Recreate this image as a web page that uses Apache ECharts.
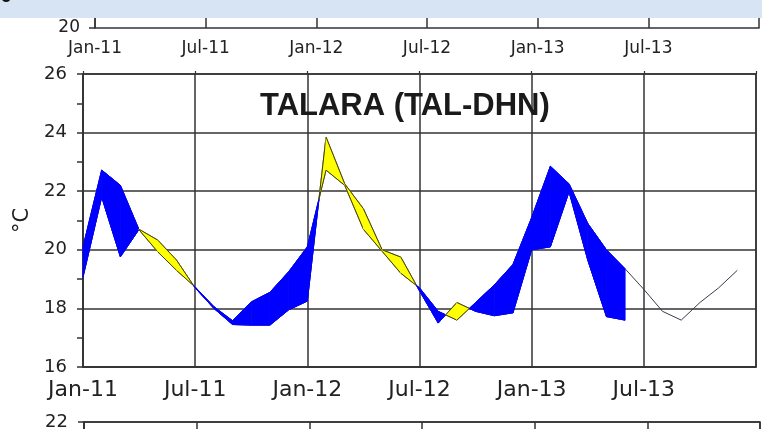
<!DOCTYPE html>
<html>
<head>
<meta charset="utf-8">
<script src="https://cdn.jsdelivr.net/npm/echarts@6/dist/echarts.min.js"></script>
<style>
  html, body { margin: 0; padding: 0; background: #fff; }
  #chart { width: 762px; height: 429px; }
</style>
</head>
<body>
<div id="chart"></div>
<script>
  // months counted from Jan-11 (0) to Jan-14 (36)
  const tickLabels = ['Jan-11', 'Jul-11', 'Jan-12', 'Jul-12', 'Jan-13', 'Jul-13', ''];

  // thin reference line, Jan-11 .. Dec-13
  const normal = [
    20.1, 22.72, 22.2, 20.68, 19.93, 19.3, 18.73, 18.06, 17.58, 18.22, 18.55, 19.25,
    20.1, 22.72, 22.2, 20.7, 19.95, 19.2, 18.7, 17.9, 17.6, 18.2, 18.8, 19.5,
    21.1, 22.85, 22.25, 20.9, 20.0, 19.35, 18.65, 17.9, 17.6, 18.2, 18.7, 19.3
  ];

  // observed, Jan-11 .. Jun-13
  const observed = [
    19.07, 21.8, 19.76, 20.7, 20.33, 19.65, 18.7, 18.0, 17.45, 17.43, 17.43, 17.95,
    18.25, 23.85, 22.25, 21.4, 20.0, 19.75, 18.6, 17.5, 18.2, 17.9, 17.75, 17.85,
    20.0, 20.1, 21.98, 19.65, 17.72, 17.6
  ];

  const chart = echarts.init(document.getElementById('chart'));

  const segments = [];
  for (let i = 0; i < observed.length - 1; i++) {
    segments.push([i, observed[i], observed[i + 1], normal[i], normal[i + 1]]);
  }

  const WARM = '#ffff00', COLD = '#0000ff';

  function renderBand(params, api) {
    const i = api.value(0);
    const o0 = api.value(1), o1 = api.value(2), c0 = api.value(3), c1 = api.value(4);
    const d0 = o0 - c0, d1 = o1 - c1;
    const children = [];
    function piece(a, b, warm) {
      // a, b: [x, normal, observed] at both ends
      const col = warm ? WARM : COLD;
      const edge = warm ? '#3d3d1a' : COLD;
      children.push({
        type: 'polygon',
        shape: { points: [api.coord([a[0], a[1]]), api.coord([b[0], b[1]]), api.coord([b[0], b[2]]), api.coord([a[0], a[2]])] },
        style: { fill: col, stroke: col, lineWidth: 0.8 }
      });
      children.push({
        type: 'polyline',
        shape: { points: [api.coord([a[0], a[1]]), api.coord([b[0], b[1]])] },
        style: { stroke: edge, lineWidth: 1, fill: null }
      });
      children.push({
        type: 'polyline',
        shape: { points: [api.coord([a[0], a[2]]), api.coord([b[0], b[2]])] },
        style: { stroke: edge, lineWidth: 1, fill: null }
      });
    }
    if (d0 * d1 >= 0) {
      piece([i, c0, o0], [i + 1, c1, o1], d0 + d1 > 0);
    } else {
      const t = d0 / (d0 - d1);
      const vc = c0 + t * (c1 - c0);
      piece([i, c0, o0], [i + t, vc, vc], d0 > 0);
      piece([i + t, vc, vc], [i + 1, c1, o1], d1 > 0);
    }
    return { type: 'group', children: children };
  }

  const FONT = 'DejaVu Sans';
  const ink = '#333';
  const gridLine = { show: true, lineStyle: { color: ink, width: 1.5 } };
  const monthLabel = v => tickLabels[v / 6] || '';

  const option = {
    animation: false,
    backgroundColor: '#fff',
    title: {
      text: 'TALARA (TAL-DHN)',
      left: 255,
      top: 86,
      textStyle: { fontFamily: 'Liberation Sans', fontWeight: 'bold', fontSize: 31, color: '#1a1a1a' }
    },
    grid: [
      { left: 83, top: 74, width: 673, height: 293, show: true, borderColor: ink, borderWidth: 1.5 },
      { left: 95, top: 0, width: 680, height: 28 },
      { left: 84, top: 422, width: 676, height: 400, show: true, borderColor: ink, borderWidth: 1.5 }
    ],
    xAxis: [
      {
        gridIndex: 0, type: 'value', min: 0, max: 36, interval: 6,
        axisLine: { show: true, lineStyle: { color: ink, width: 1.5 } },
        axisTick: { show: false },
        splitLine: gridLine,
        axisLabel: { formatter: monthLabel, fontFamily: FONT, fontSize: 22, color: '#222', margin: 12 }
      },
      {
        gridIndex: 1, type: 'value', min: 0, max: 36, interval: 6,
        axisLine: { show: true, lineStyle: { color: ink, width: 1.5 } },
        axisTick: { show: false },
        splitLine: gridLine,
        axisLabel: { formatter: monthLabel, fontFamily: FONT, fontSize: 17, color: '#222', margin: 12 }
      },
      {
        gridIndex: 2, type: 'value', min: 0, max: 36, interval: 6,
        axisLine: { show: false },
        axisTick: { show: false },
        splitLine: gridLine,
        axisLabel: { show: false }
      },
      {
        gridIndex: 0, type: 'value', min: 0, max: 36, interval: 6, position: 'top',
        axisLine: { show: false },
        axisTick: { show: true, length: 3, lineStyle: { color: ink, width: 1.2 } },
        splitLine: { show: false },
        axisLabel: { show: false }
      }
    ],
    yAxis: [
      {
        gridIndex: 0, type: 'value', min: 16, max: 26, interval: 2,
        name: '°C', nameLocation: 'middle', nameRotate: 90, nameGap: 50,
        nameTextStyle: { fontFamily: FONT, fontSize: 21, color: '#222' },
        axisLine: { show: true, lineStyle: { color: ink, width: 1.5 } },
        axisTick: { show: true, length: 6, lineStyle: { color: ink, width: 1.5 } },
        minorTick: { show: true, splitNumber: 2, length: 6, lineStyle: { color: ink, width: 1.5 } },
        splitLine: gridLine,
        axisLabel: { fontFamily: FONT, fontSize: 18, color: '#222', margin: 16 }
      },
      {
        gridIndex: 1, type: 'value', min: 20, max: 22, interval: 2,
        axisLine: { show: true, lineStyle: { color: ink, width: 1.5 } },
        axisTick: { show: true, length: 6, lineStyle: { color: ink, width: 1.5 } },
        splitLine: { show: false },
        axisLabel: { formatter: v => (v === 20 ? '20' : ''), fontFamily: FONT, fontSize: 17, color: '#222', margin: 15 }
      },
      {
        gridIndex: 2, type: 'value', min: 12, max: 22, interval: 2,
        axisLine: { show: true, lineStyle: { color: ink, width: 1.5 } },
        axisTick: { show: true, length: 6, lineStyle: { color: ink, width: 1.5 } },
        splitLine: gridLine,
        axisLabel: { fontFamily: FONT, fontSize: 18, color: '#222', margin: 16 }
      }
    ],
    series: [
      {
        type: 'line', xAxisIndex: 0, yAxisIndex: 0, z: 2,
        data: normal.map((v, i) => [i, v]),
        showSymbol: false, lineStyle: { color: '#3a3a4a', width: 1 }
      },
      {
        type: 'line', xAxisIndex: 0, yAxisIndex: 0, z: 2,
        data: observed.map((v, i) => [i, v]),
        showSymbol: false, lineStyle: { color: '#2a2a5a', width: 1 }
      },
      {
        type: 'custom', xAxisIndex: 0, yAxisIndex: 0, z: 3,
        renderItem: renderBand,
        data: segments
      }
    ],
    graphic: [
      { type: 'rect', left: 0, top: 0, z: 100, shape: { width: 762, height: 18 }, style: { fill: '#d6e4f3' } },
      { type: 'text', left: 1, top: -9, z: 101, style: { text: 'o', font: 'bold 15px DejaVu Sans', fill: '#111' } }
    ]
  };

  chart.setOption(option);
</script>
</body>
</html>
